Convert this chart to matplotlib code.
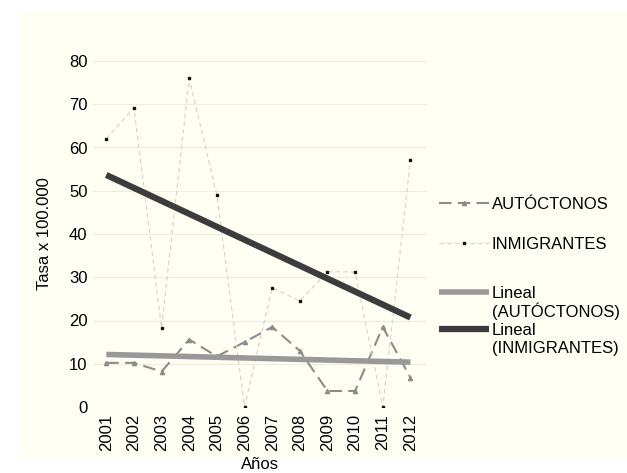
import numpy as np
import matplotlib.pyplot as plt
from matplotlib.patches import Rectangle
from matplotlib.lines import Line2D

years = [2001, 2002, 2003, 2004, 2005, 2006, 2007, 2008, 2009, 2010, 2011, 2012]
autoctonos = [10.2, 10.2, 8.2, 15.6, 11.7, 15.0, 18.5, 13.0, 3.7, 3.7, 18.5, 6.8]
inmigrantes = [62.0, 69.2, 18.3, 76.0, 49.0, 0.0, 27.6, 24.5, 31.3, 31.2, 0.0, 57.0]

plt.rcParams['font.family'] = ['Liberation Sans', 'DejaVu Sans']

fig = plt.figure(figsize=(6.27, 4.73), dpi=100)
fig.patch.set_facecolor('white')
bg = '#fefef2'
fig.patches.append(Rectangle((20 / 627, 1 - 459 / 473), 1, 447 / 473,
                             transform=fig.transFigure, facecolor=bg,
                             edgecolor='none', zorder=-10))

ax = fig.add_axes([93 / 627, 1 - 407 / 473, 334 / 627, 346 / 473])
ax.set_facecolor(bg)

x = np.arange(len(years))

l1, = ax.plot(x, autoctonos, color='#8c8c8c', lw=1.5, ls=(0, (6, 3)),
              marker='^', ms=3, mfc='#8c8c8c', mec='#8c8c8c')
l2, = ax.plot(x, inmigrantes, color='#d2d2d2', lw=0.8, ls=(0, (4, 3)),
              marker='s', ms=2, mfc='#111111', mec='#111111')

# linear trends
pa = np.polyfit(x, autoctonos, 1)
pi = np.polyfit(x, inmigrantes, 1)
l3, = ax.plot(x, np.polyval(pa, x), color='#999999', lw=4, solid_capstyle='butt')
l4, = ax.plot(x, np.polyval(pi, x), color='#3c3c3c', lw=4.5, solid_capstyle='butt')

ax.set_xlim(-0.48, 11.6)
ax.set_ylim(0, 80)
ax.set_yticks(range(0, 81, 10))
ax.set_xticks(x)
ax.set_xticklabels([str(y) for y in years], rotation=90)
ax.grid(axis='y', color='#ececdf', lw=0.8)
ax.set_axisbelow(True)
for s in ax.spines.values():
    s.set_visible(False)
ax.tick_params(axis='y', length=0, labelsize=12, pad=4)
ax.tick_params(axis='x', length=0, labelsize=12, pad=5)

ax.set_ylabel('Tasa x 100.000', fontsize=12, labelpad=12)
ax.set_xlabel('Años', fontsize=12, labelpad=4)

blank = Line2D([], [], color='none', lw=4)
leg1 = ax.legend([l1, l2], ['AUTÓCTONOS', 'INMIGRANTES'],
                 loc='center left', bbox_to_anchor=(0.99, 0.527), frameon=False,
                 fontsize=12, handlelength=3.0, handletextpad=0.2,
                 labelspacing=1.5)
ax.add_artist(leg1)
ax.legend([l3, blank, l4, blank],
          ['Lineal', '(AUTÓCTONOS)', 'Lineal', '(INMIGRANTES)'],
          loc='center left', bbox_to_anchor=(0.99, 0.25), frameon=False,
          fontsize=12, handlelength=3.0, handletextpad=0.2,
          labelspacing=0.15)

fig.savefig('out.png', dpi=100, facecolor=fig.get_facecolor())
